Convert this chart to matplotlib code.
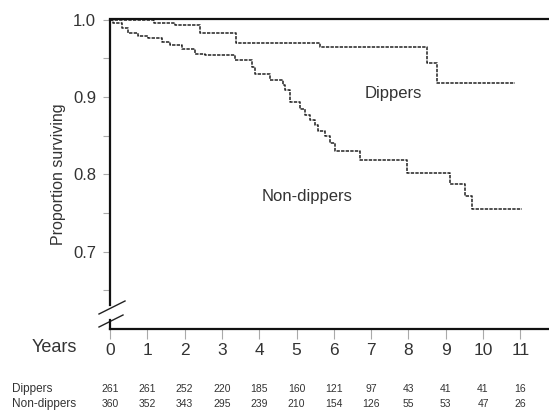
import matplotlib
matplotlib.use("Agg")
import matplotlib.pyplot as plt
from matplotlib.lines import Line2D

plt.rcParams['font.family'] = ['Liberation Sans', 'DejaVu Sans']

# ---- data ----
dip_t = [0, 1.18, 1.74, 2.40, 3.38, 5.63, 8.49, 8.76, 10.86]
dip_s = [1.0, 0.996, 0.993, 0.982, 0.970, 0.965, 0.944, 0.918, 0.918]

non_t = [0, 0.08, 0.32, 0.48, 0.75, 1.02, 1.39, 1.61, 1.93, 2.28, 2.55, 3.35,
         3.81, 3.89, 4.29, 4.64, 4.70, 4.83, 5.09, 5.22, 5.36, 5.50, 5.58,
         5.76, 5.90, 6.03, 6.70, 7.96, 9.12, 9.52, 9.70, 11.05]
non_s = [1.0, 0.995, 0.989, 0.983, 0.979, 0.976, 0.971, 0.967, 0.962, 0.956,
         0.954, 0.948, 0.939, 0.929, 0.922, 0.915, 0.909, 0.894, 0.884, 0.877,
         0.870, 0.864, 0.856, 0.849, 0.841, 0.830, 0.819, 0.802, 0.787, 0.772,
         0.755, 0.755]

years = list(range(12))
risk_dippers = [261, 261, 252, 220, 185, 160, 121, 97, 43, 41, 41, 16]
risk_non = [360, 352, 343, 295, 239, 210, 154, 126, 55, 53, 47, 26]
y_major = [0.7, 0.8, 0.9, 1.0]
y_minor = [0.65, 0.75, 0.85, 0.95]

W, H = 549, 412
fig = plt.figure(figsize=(W / 100, H / 100), dpi=100)
ax = fig.add_axes([110 / W, 1 - 329 / H, (W - 110) / W, (329 - 19.5) / H])
ax.set_xlim(0, (W - 110) / 37.3)
ax.set_ylim(0.6, 1.0)

ls = (0, (2.2, 0.8))
ax.plot(dip_t, dip_s, drawstyle='steps-post', color='#222222', lw=1.1, ls=ls)
ax.plot(non_t, non_s, drawstyle='steps-post', color='#222222', lw=1.1, ls=ls)

for sp in ['top', 'bottom', 'left']:
    ax.spines[sp].set_linewidth(1.6)
    ax.spines[sp].set_color('#111111')
ax.spines['right'].set_visible(False)
ax.spines['left'].set_bounds(0.631, 1.0)

ax.set_yticks(y_major)
ax.set_yticklabels([f"{v:.1f}" for v in y_major])
ax.set_yticks(y_minor, minor=True)
ax.tick_params(axis='y', which='both', direction='out', length=5, width=0.8,
               color='#aaaaaa', labelsize=12, labelcolor='#333333', pad=5)
ax.set_xticks(years)
ax.set_xticklabels([str(y) for y in years])
ax.tick_params(axis='x', direction='out', length=7, width=0.8,
               color='#aaaaaa', labelsize=12.5, labelcolor='#333333', pad=3)

ax.set_ylabel('Proportion surviving', fontsize=11.5, color='#333333', labelpad=5)

# axis break marks
tA = ax.transAxes
def px(x, y):
    return ((x - 110) / (W - 110), (329 - y) / (329 - 19.5))
for (x0, y0), (x1, y1) in [((99, 314), (125, 301)), ((99, 327), (123, 315))]:
    a, b = px(x0, y0), px(x1, y1)
    ax.add_line(Line2D([a[0], b[0]], [a[1], b[1]], transform=tA, color='#222222',
                       lw=1.0, clip_on=False))
a, b = px(110, 320), px(110, 329)
ax.add_line(Line2D([a[0], b[0]], [a[1], b[1]], transform=tA, color='#111111',
                   lw=1.6, clip_on=False))

ax.text(7.6, 0.905, 'Dippers', fontsize=12, color='#333333', ha='center', va='center')
ax.text(5.27, 0.771, 'Non-dippers', fontsize=12, color='#333333', ha='center', va='center')

ax.text(px(77, 0)[0], px(0, 347)[1], 'Years', transform=tA, fontsize=13,
        color='#333333', ha='right', va='center')

blend = matplotlib.transforms.blended_transform_factory(ax.transData, tA)
for label, vals, ypix in [('Dippers', risk_dippers, 389), ('Non-dippers', risk_non, 404)]:
    yy = px(0, ypix)[1]
    ax.text(px(12, 0)[0], yy, label, transform=tA, fontsize=8.5, color='#333333',
            ha='left', va='center')
    for yr, v in zip(years, vals):
        ax.text(yr, yy, str(v), transform=blend, fontsize=7.5, color='#333333',
                ha='center', va='center')

fig.savefig('out.png', dpi=100)
